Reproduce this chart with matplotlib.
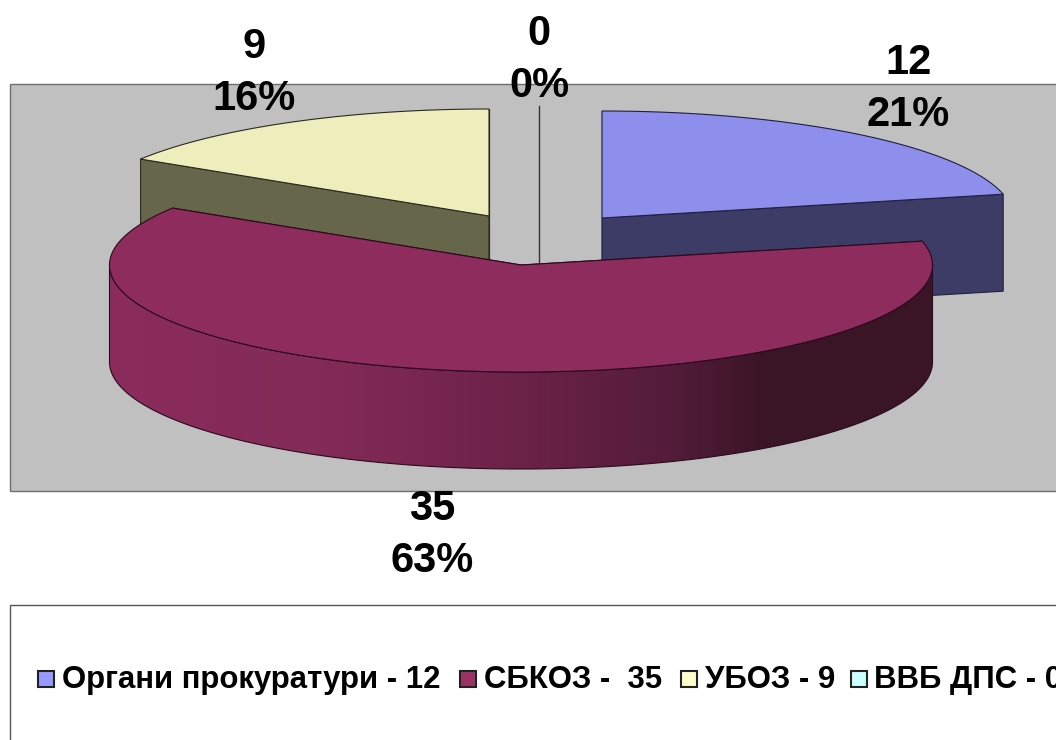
import numpy as np
import matplotlib
matplotlib.use("Agg")
import matplotlib.pyplot as plt
from matplotlib.patches import Polygon, Rectangle
from matplotlib.colors import LinearSegmentedColormap

categories = ["Органи прокуратури - 12", "СБКОЗ -  35", "УБОЗ - 9", "ВВБ ДПС - 0"]
values = [12, 35, 9, 0]
top_colors = ["#8E8EEC", "#8F2C5E", "#EEEDBC", "#CCFFFF"]
side_colors = ["#3C3C66", "#7A2A55", "#66664A", "#577070"]
legend_colors = ["#9999FF", "#993366", "#FFFFCC", "#CCFFFF"]

plt.rcParams["font.family"] = ["Liberation Sans", "DejaVu Sans"]
fig = plt.figure(figsize=(10.56, 7.40), dpi=100)
ax = fig.add_axes([0, 0, 1, 1])
ax.set_axis_off()

RX, RY, DEPTH = 411.5, 107, 97
centers = [(602, 218), (521, 265), (489, 216), (539, 265)]
label_pos = [(908, 89), (432, 535), (254, 73), (539, 60)]
legend_text_x = [62, 484, 705, 874]
legend_box_x = [38, 460, 681, 851]

ax.add_patch(Rectangle((10, 84), 1060, 407, fc="#C0C0C0", ec="#6E6E6E", lw=1))
ax.add_patch(Rectangle((10, 605), 1100, 200, fc="white", ec="#555555", lw=1))

total = sum(values)
bounds = np.cumsum([0] + values) / total * 2 * np.pi


def rim(c, a, b):
    t = np.linspace(a, b, 240)
    return np.column_stack([c[0] + RX * np.sin(t), c[1] - RY * np.cos(t)])


def wedge(c, a, b, top, side, z):
    edge = "#202040" if side == side_colors[0] else "#2A2A20" if side == side_colors[2] else "#2A0A1E"
    r = rim(c, a, b)
    for ang in (a, b):
        p = rim(c, ang, ang)[0]
        q = np.array([[c[0], c[1]], p, p + [0, DEPTH], [c[0], c[1] + DEPTH]])
        ax.add_patch(Polygon(q, fc=side, ec=edge, lw=0.8, zorder=z))
    lo, hi = max(a, np.pi / 2), min(b, 3 * np.pi / 2)
    if hi > lo:
        w = rim(c, lo, hi)
        wall = np.vstack([w, (w + [0, DEPTH])[::-1]])
        poly = Polygon(wall, fc="none", ec=edge, lw=0.8, zorder=z + 2)
        ax.add_patch(poly)
        cmap = LinearSegmentedColormap.from_list(
            "shade",
            [(0.0, "#8A2C5C"), (0.25, "#842B58"), (0.48, "#6E2349"),
             (0.68, "#541C3A"), (0.8, "#3A1525"), (1.0, "#3A1626")])
        x0, x1 = wall[:, 0].min(), wall[:, 0].max()
        im = ax.imshow(np.linspace(0, 1, 256)[None, :], cmap=cmap, aspect="auto",
                       extent=(x0, x1, wall[:, 1].max(), wall[:, 1].min()), zorder=z + 1)
        im.set_clip_path(poly)
    face = np.vstack([[c], r])
    ax.add_patch(Polygon(face, fc=top, ec=edge, lw=0.8, zorder=z + 3))


c = centers[3]
ax.plot([c[0], c[0]], [c[1], c[1] - RY - 52], color="#333333", lw=1, zorder=1)

order = [0, 2, 1]
for n, i in enumerate(order):
    wedge(centers[i], bounds[i], bounds[i + 1], top_colors[i], side_colors[i], 2 + n * 5)

for i, v in enumerate(values):
    pct = int(np.floor(v / total * 100 + 0.5))
    ax.text(label_pos[i][0], label_pos[i][1], f"{v}\n{pct}%", ha="center", va="center",
            fontsize=30, fontweight="bold", color="black", linespacing=1.37, zorder=40)

for i, name in enumerate(categories):
    ax.add_patch(Rectangle((legend_box_x[i], 671), 16, 16, fc=legend_colors[i], ec="#222222", lw=1.5, zorder=40))
    ax.text(legend_text_x[i], 680, name, ha="left", va="center", fontsize=22.4, fontweight="bold",
            color="black", zorder=40, clip_on=True)

ax.set_xlim(0, 1056)
ax.set_ylim(740, 0)
fig.savefig("out.png", dpi=100, facecolor="white")
